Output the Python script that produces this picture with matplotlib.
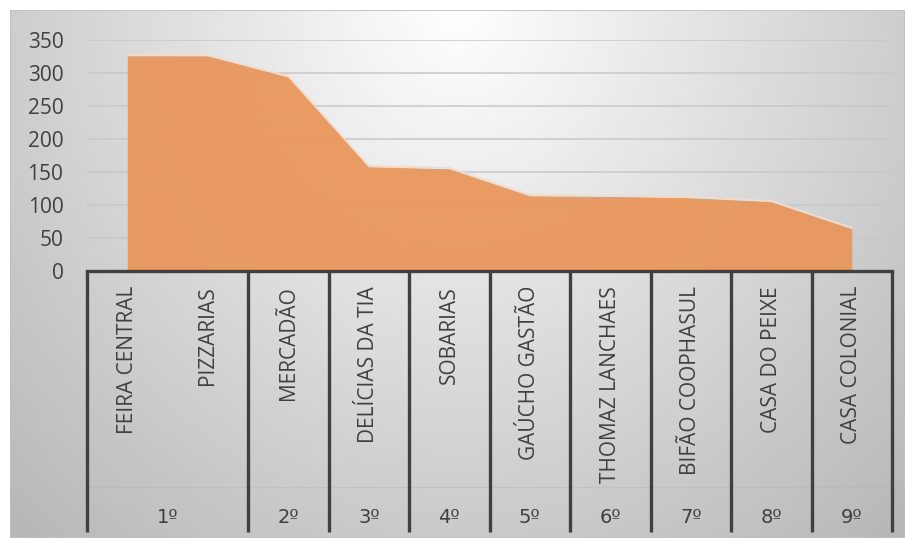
import numpy as np
import matplotlib.pyplot as plt
from matplotlib.patches import Rectangle

plt.rcParams['font.family'] = ['Open Sans', 'DejaVu Sans']

# dados
categorias = ['FEIRA CENTRAL', 'PIZZARIAS', 'MERCADÃO', 'DELÍCIAS DA TIA', 'SOBARIAS',
              'GAÚCHO GASTÃO', 'THOMAZ LANCHAES', 'BIFÃO COOPHASUL', 'CASA DO PEIXE',
              'CASA COLONIAL']
valores = [326, 326, 294, 158, 155, 114, 113, 111, 105, 64]
grupos = ['1º', '2º', '3º', '4º', '5º', '6º', '7º', '8º', '9º']
grupo_tamanho = [2, 1, 1, 1, 1, 1, 1, 1, 1]
yticks = [0, 50, 100, 150, 200, 250, 300, 350]

COR_TEXTO = '#404040'
COR_AREA = '#EA955A'
COR_BORDA = '#FAD9C0'
FS = 15

W, H = 909, 538
fig = plt.figure(figsize=(W / 100, H / 100), dpi=100, facecolor='white')

# fundo com gradiente
bg = fig.add_axes([10 / W, 0, 895 / W, 528 / H])
xx, yy = np.meshgrid(np.linspace(0, 1, 300), np.linspace(0, 1, 200))
d = np.sqrt(((xx - 0.5) / 0.62) ** 2 + ((yy - 1.0) / 1.15) ** 2)
g = np.clip(1.0 - 0.24 * d, 0, 1)
bg.imshow(np.dstack([g, g, g]), origin='lower', aspect='auto', extent=[0, 1, 0, 1])
bg.add_patch(Rectangle((0, 0), 1, 1, transform=bg.transAxes, fill=False,
                       edgecolor='#bfbfbf', lw=1.2))
bg.axis('off')

# área do gráfico
ax = fig.add_axes([87 / W, 1 - 271 / H, 805 / W, 231 / H])
ax.patch.set_alpha(0)
x = np.arange(len(categorias))
ax.set_xlim(-0.5, len(categorias) - 0.5)
ax.set_ylim(0, 350)

for v in yticks[1:]:
    ax.axhline(v, color='#c8c8c8', lw=1.1, zorder=1)

ax.fill_between(x, 0, valores, color=COR_AREA, alpha=0.93, lw=0, zorder=2)
ax.plot(x, np.array(valores) + 1.2, color=COR_BORDA, lw=1.3, zorder=3)

ax.set_yticks(yticks)
ax.set_yticklabels([str(v) for v in yticks], fontsize=FS, color=COR_TEXTO)
ax.tick_params(axis='y', length=0, pad=17)
ax.set_xticks([])
for s in ax.spines.values():
    s.set_visible(False)

# eixo de categorias em dois níveis
tr = ax.get_xaxis_transform()
ax.plot([-0.5, len(categorias) - 0.5], [0, 0], transform=tr, color=COR_TEXTO,
        lw=2.4, clip_on=False, zorder=5)
ax.plot([-0.5, len(categorias) - 0.5], [-0.935, -0.935], transform=tr,
        color='#b0b0b0', alpha=0.35, lw=0.8, clip_on=False, zorder=4)

for i, nome in enumerate(categorias):
    ax.text(i, -0.065, nome, transform=tr, rotation=90, ha='center', va='top',
            fontsize=FS, color=COR_TEXTO, clip_on=False)

inicio = -0.5
divisores = [inicio]
for rot, n in zip(grupos, grupo_tamanho):
    fim = inicio + n
    ax.text((inicio + fim) / 2, -1.065, rot, transform=tr, ha='center', va='center',
            fontsize=FS - 1, color=COR_TEXTO, clip_on=False, family='DejaVu Sans')
    divisores.append(fim)
    inicio = fim

for xd in divisores:
    ax.plot([xd, xd], [0, -1.13], transform=tr, color=COR_TEXTO, lw=2.4,
            clip_on=False, zorder=5, solid_capstyle='butt')

plt.savefig('out.png', dpi=100, facecolor='white')
